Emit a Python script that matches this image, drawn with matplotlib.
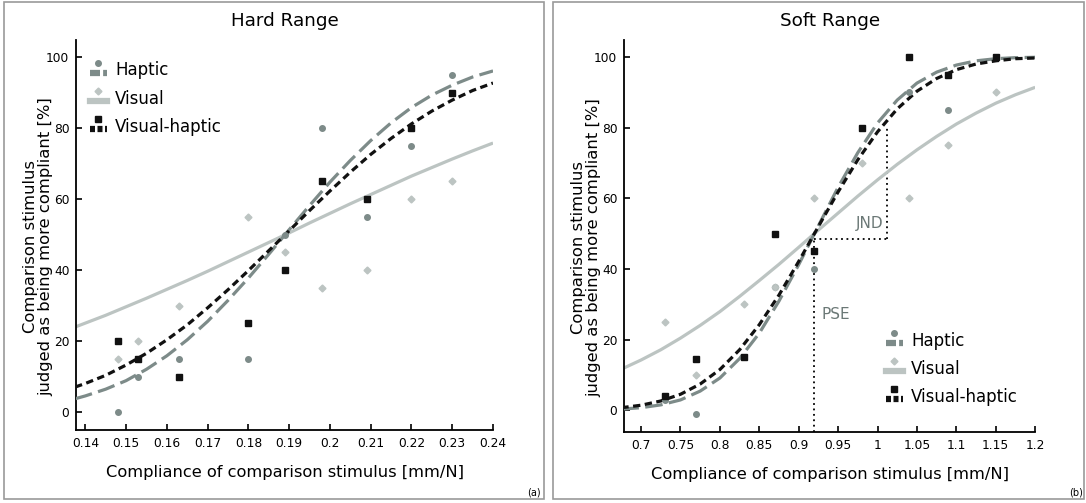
import numpy as np
import matplotlib.pyplot as plt
from matplotlib.lines import Line2D
from matplotlib.patches import Rectangle
from matplotlib.legend_handler import HandlerBase

# ---- Hard range data ----
hard_x = [0.148, 0.153, 0.163, 0.18, 0.189, 0.198, 0.209, 0.22, 0.23]
hard_haptic = [0, 10, 15, 15, 50, 80, 55, 75, 95]
hard_visual = [15, 20, 30, 55, 45, 35, 40, 60, 65]
hard_vh = [20, 15, 10, 25, 40, 65, 60, 80, 90]

# fitted curves
hard_curve_x = [0.1375, 0.14, 0.145, 0.15, 0.155, 0.16, 0.165, 0.17, 0.175, 0.18, 0.185,
                0.19, 0.195, 0.2, 0.205, 0.21, 0.215, 0.22, 0.225, 0.23, 0.235, 0.24]
hard_curve_haptic = [3.8, 4.6, 6.5, 8.9, 12.1, 15.9, 20.4, 25.6, 31.5, 37.8, 44.5,
                     51.4, 58.2, 64.8, 70.9, 76.5, 81.5, 85.8, 89.3, 92.1, 94.4, 96.1]
hard_curve_visual = [24.0, 25.1, 27.3, 29.7, 32.1, 34.6, 37.1, 39.7, 42.4, 45.1, 47.8,
                     50.5, 53.3, 56.0, 58.7, 61.3, 63.9, 66.5, 68.9, 71.3, 73.6, 75.8]
hard_curve_vh = [7.1, 8.1, 10.4, 13.3, 16.6, 20.4, 24.6, 29.4, 34.5, 39.9, 45.5,
                 51.1, 56.8, 62.3, 67.6, 72.6, 77.1, 81.2, 84.8, 87.9, 90.6, 92.7]

# ---- Soft range data ----
soft_x = [0.73, 0.77, 0.83, 0.87, 0.92, 0.98, 1.04, 1.09, 1.15]
soft_haptic = [3, -1, 15, 35, 40, 80, 90, 85, 100]
soft_visual = [25, 10, 30, 35, 60, 70, 60, 75, 90]
soft_vh = [4, 14.5, 15, 50, 45, 80, 100, 95, 100]

soft_curve_x = [0.675, 0.7, 0.725, 0.75, 0.775, 0.8, 0.825, 0.85, 0.875, 0.9, 0.925,
                0.95, 0.975, 1.0, 1.025, 1.05, 1.075, 1.1, 1.125, 1.15, 1.175, 1.2]
soft_curve_haptic = [0.3, 0.7, 1.5, 2.9, 5.4, 9.1, 14.6, 21.8, 30.9, 41.2, 52.2,
                     63.1, 72.9, 81.3, 87.8, 92.6, 95.7, 97.7, 98.9, 99.5, 99.8, 99.9]
soft_curve_visual = [11.6, 14.2, 17.1, 20.4, 24.0, 27.9, 32.2, 36.7, 41.3, 46.1, 51.0,
                     55.8, 60.6, 65.2, 69.6, 73.7, 77.5, 81.0, 84.1, 86.9, 89.3, 91.4]
soft_curve_vh = [0.7, 1.4, 2.6, 4.5, 7.4, 11.5, 17.1, 24.2, 32.6, 42.1, 52.0,
                 61.8, 70.9, 78.8, 85.3, 90.3, 93.9, 96.4, 98.0, 98.9, 99.5, 99.7]

pse_x, pse_y = 0.92, 48.5
jnd_x, jnd_top = 1.0115, 80

hard_ticks = [0.14, 0.15, 0.16, 0.17, 0.18, 0.19, 0.2, 0.21, 0.22, 0.23, 0.24]
hard_ticklabels = ['0.14', '0.15', '0.16', '0.17', '0.18', '0.19', '0.2', '0.21', '0.22', '0.23', '0.24']
soft_ticks = [0.7, 0.75, 0.8, 0.85, 0.9, 0.95, 1.0, 1.05, 1.1, 1.15, 1.2]
soft_ticklabels = ['0.7', '0.75', '0.8', '0.85', '0.9', '0.95', '1', '1.05', '1.1', '1.15', '1.2']
y_ticks = [0, 20, 40, 60, 80, 100]

c_haptic = '#7d8b89'
c_visual = '#bcc4c2'
c_vh = '#111111'
c_note = '#6b7876'

haptic_dash = (5.5, 2.0)
vh_dash = (2.3, 1.4)


class MarkerAbove(HandlerBase):
    # legend entry: small marker sitting above a thick line piece
    def create_artists(self, legend, orig_handle, xdescent, ydescent, width, height, fontsize, trans):
        x0, x1 = -xdescent, width - xdescent
        ymid = height / 2 - ydescent
        line = Line2D([x0, x1], [ymid - height * 0.25] * 2)
        line.update_from(orig_handle)
        line.set_marker('None')
        line.set_linewidth(4.5)
        mk = Line2D([(x0 + x1) / 2], [ymid + height * 0.6])
        mk.update_from(orig_handle)
        mk.set_linestyle('None')
        line.set_transform(trans)
        mk.set_transform(trans)
        return [line, mk]


fig = plt.figure(figsize=(10.86, 5.03), dpi=100)
ax1 = fig.add_axes([0.0703, 0.1451, 0.3837, 0.7753])
ax2 = fig.add_axes([0.5749, 0.1417, 0.3783, 0.7788])


def draw(ax, x, hap, vis, vh, cx, ch, cv, cvh):
    ax.plot(cx, cv, color=c_visual, lw=2.3, solid_capstyle='butt', zorder=2)
    ax.plot(cx, ch, color=c_haptic, lw=2.3, dashes=haptic_dash, zorder=3)
    ax.plot(cx, cvh, color=c_vh, lw=2.3, dashes=vh_dash, zorder=4)
    ax.plot(x, hap, 'o', color=c_haptic, ms=4, zorder=5)
    ax.plot(x, vis, 'D', color=c_visual, ms=3.5, zorder=5)
    ax.plot(x, vh, 's', color=c_vh, ms=4.5, zorder=5)


draw(ax1, hard_x, hard_haptic, hard_visual, hard_vh,
     hard_curve_x, hard_curve_haptic, hard_curve_visual, hard_curve_vh)
draw(ax2, soft_x, soft_haptic, soft_visual, soft_vh,
     soft_curve_x, soft_curve_haptic, soft_curve_visual, soft_curve_vh)

# PSE / JND markers
ax2.plot([pse_x, pse_x], [-6.1, pse_y], color='black', lw=1.3, ls=(0, (1, 2)), zorder=1)
ax2.plot([pse_x, jnd_x], [pse_y, pse_y], color='black', lw=1.3, ls=(0, (1, 2)), zorder=1)
ax2.plot([jnd_x, jnd_x], [pse_y, jnd_top], color='black', lw=1.3, ls=(0, (1, 2)), zorder=1)
ax2.text(0.929, 27.2, 'PSE', color=c_note, fontsize=11, va='center', ha='left')
ax2.text(1.007, 52.8, 'JND', color=c_note, fontsize=11, va='center', ha='right')

ax1.set_xlim(0.1378, 0.24)
ax1.set_ylim(-5, 104.8)
ax2.set_xlim(0.6788, 1.2)
ax2.set_ylim(-6.1, 104.8)

ax1.set_xticks(hard_ticks)
ax1.set_xticklabels(hard_ticklabels)
ax2.set_xticks(soft_ticks)
ax2.set_xticklabels(soft_ticklabels)

for ax, title in [(ax1, 'Hard Range'), (ax2, 'Soft Range')]:
    ax.set_yticks(y_ticks)
    ax.spines['top'].set_visible(False)
    ax.spines['right'].set_visible(False)
    ax.spines['left'].set_linewidth(1.3)
    ax.spines['bottom'].set_linewidth(1.3)
    ax.tick_params(direction='in', length=4, width=1.2, labelsize=8.8, pad=5)
    ax.set_title(title, fontsize=13.2, pad=10)
    ax.set_xlabel('Compliance of comparison stimulus [mm/N]', fontsize=11.7, labelpad=11)
    ax.set_ylabel('Comparison stimulus\njudged as being more compliant [%]', fontsize=11.8,
                  linespacing=1.0)
    ax.yaxis.set_label_coords(-0.056, 0.47)

handles = [
    Line2D([], [], color=c_haptic, dashes=(1.6, 0.5), marker='o', ms=4),
    Line2D([], [], color=c_visual, marker='D', ms=3.5),
    Line2D([], [], color=c_vh, dashes=(0.8, 0.4), marker='s', ms=4),
]
labels = ['Haptic', 'Visual', 'Visual-haptic']
leg_kw = dict(handler_map={Line2D: MarkerAbove()}, frameon=False, fontsize=12,
              handlelength=1.0, handletextpad=0.5, labelspacing=0.62,
              borderpad=0, borderaxespad=0)
ax1.legend(handles, labels, loc='upper left', bbox_to_anchor=(0.033, 0.945), **leg_kw)
ax2.legend(handles, labels, loc='lower left', bbox_to_anchor=(0.637, 0.065), **leg_kw)

# panel frames and letters
fig.add_artist(Rectangle((0.0037, 0.008), 0.4972, 0.988, transform=fig.transFigure,
                         fill=False, ec='#9a9a9a', lw=1.2))
fig.add_artist(Rectangle((0.5092, 0.008), 0.4890, 0.988, transform=fig.transFigure,
                         fill=False, ec='#9a9a9a', lw=1.2))
fig.text(0.498, 0.02, '(a)', fontsize=7, ha='right', va='center')
fig.text(0.997, 0.02, '(b)', fontsize=7, ha='right', va='center')

fig.savefig('out.png', dpi=100)
